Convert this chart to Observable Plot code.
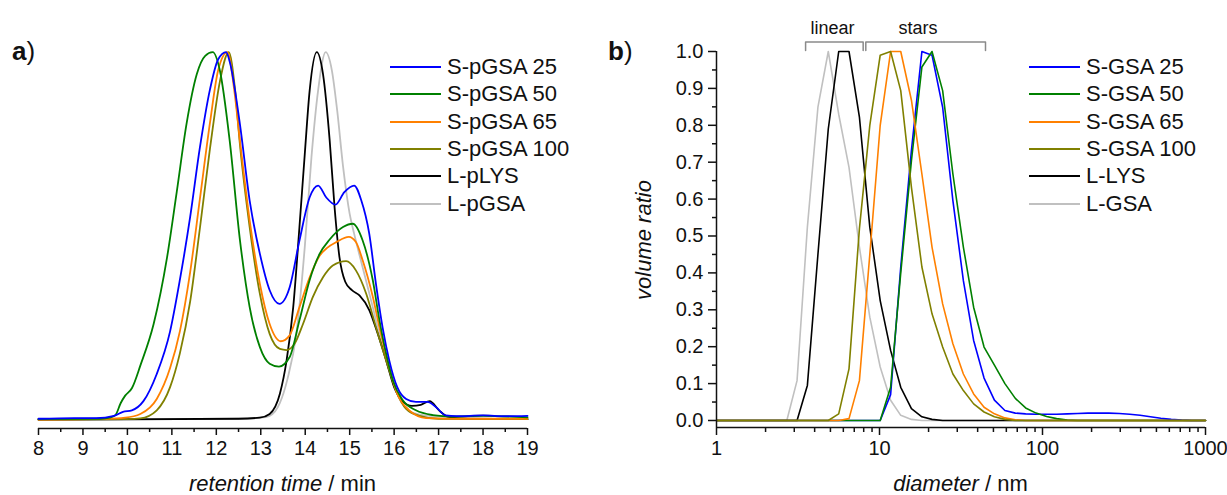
<!DOCTYPE html>
<html><head><meta charset="utf-8">
<script src="https://cdn.jsdelivr.net/npm/d3@7"></script>
<script src="https://cdn.jsdelivr.net/npm/@observablehq/plot@0.6"></script>
<style>
body{margin:0;background:#fff;font-family:"Liberation Sans",Arial,sans-serif;}
#wrap{position:relative;width:1227px;height:495px;overflow:hidden;background:#fff;}
.panel{position:absolute;top:0;}
.leg{position:absolute;display:flex;align-items:center;height:26px;font-size:22px;color:#111;white-space:nowrap;}
.leg svg{margin-right:6px;}
#overlay{position:absolute;left:0;top:0;pointer-events:none;}
</style></head><body><div id="wrap"></div>
<script>
// ---------- Panel a: SEC traces (retention time / min, normalised signal) ----------
const secS25 = [[8.0,0.002],[8.8,0.004],[9.3,0.004],[9.7,0.01],[9.9,0.021],[10.1,0.025],[10.36,0.05],[10.66,0.124],[10.96,0.24],[11.18,0.38],[11.41,0.55],[11.63,0.74],[11.86,0.9],[12.04,0.98],[12.22,1.0],[12.3,0.975],[12.53,0.805],[12.75,0.596],[12.98,0.451],[13.2,0.352],[13.42,0.315],[13.65,0.36],[13.87,0.487],[14.1,0.605],[14.29,0.637],[14.47,0.605],[14.68,0.585],[14.88,0.619],[15.1,0.637],[15.26,0.597],[15.44,0.506],[15.59,0.37],[15.74,0.251],[15.89,0.161],[16.07,0.088],[16.27,0.056],[16.49,0.048],[16.75,0.048],[16.94,0.034],[17.16,0.011],[17.4,0.009],[18.0,0.011],[18.5,0.009],[19.0,0.01]];
const secS50 = [[8,0.001],[9.4,0.002],[9.6,0.005],[9.73,0.012],[9.85,0.045],[9.95,0.065],[10.1,0.085],[10.3,0.15],[10.59,0.26],[10.89,0.44],[11.11,0.62],[11.33,0.805],[11.56,0.94],[11.75,0.99],[11.92,1.0],[12.08,0.95],[12.3,0.76],[12.53,0.49],[12.75,0.306],[12.98,0.197],[13.2,0.152],[13.41,0.144],[13.65,0.17],[13.87,0.27],[14.1,0.38],[14.32,0.45],[14.55,0.49],[14.85,0.524],[15.07,0.533],[15.29,0.488],[15.52,0.379],[15.67,0.27],[15.82,0.179],[15.97,0.107],[16.19,0.053],[16.49,0.025],[16.87,0.012],[17.3,0.008],[18.0,0.01],[19.0,0.006]];
const secS65 = [[8,0.0],[9.5,0.002],[9.95,0.005],[10.29,0.015],[10.66,0.056],[10.96,0.14],[11.18,0.24],[11.41,0.4],[11.63,0.6],[11.86,0.81],[12.04,0.95],[12.25,1.0],[12.4,0.9],[12.53,0.76],[12.75,0.542],[12.98,0.369],[13.2,0.26],[13.45,0.213],[13.65,0.229],[13.87,0.306],[14.1,0.387],[14.32,0.445],[14.5,0.468],[14.7,0.483],[14.98,0.497],[15.14,0.483],[15.29,0.434],[15.52,0.334],[15.7,0.234],[15.89,0.143],[16.07,0.07],[16.34,0.025],[16.72,0.004],[17.5,0.002],[19,0.002]];
const secS100 = [[8,0],[10.0,0.001],[10.29,0.003],[10.66,0.025],[10.96,0.088],[11.18,0.18],[11.41,0.32],[11.63,0.52],[11.86,0.74],[12.08,0.92],[12.28,1.0],[12.42,0.9],[12.53,0.75],[12.75,0.524],[12.98,0.342],[13.2,0.233],[13.43,0.192],[13.58,0.189],[13.76,0.206],[13.95,0.26],[14.17,0.333],[14.4,0.387],[14.62,0.419],[14.92,0.431],[15.14,0.406],[15.37,0.343],[15.59,0.252],[15.82,0.161],[16.04,0.08],[16.27,0.029],[16.57,0.01],[17.0,0.002],[19,0.001]];
const secLLYS = [[8,0],[12.5,0.002],[12.98,0.005],[13.2,0.015],[13.43,0.07],[13.58,0.16],[13.73,0.306],[13.87,0.524],[13.99,0.723],[14.1,0.896],[14.26,1.0],[14.4,0.94],[14.55,0.76],[14.66,0.578],[14.77,0.442],[14.9,0.375],[15.05,0.352],[15.22,0.338],[15.44,0.298],[15.63,0.234],[15.82,0.161],[16.0,0.088],[16.19,0.05],[16.4,0.037],[16.6,0.04],[16.8,0.05],[17.01,0.025],[17.2,0.008],[17.5,0.003],[19,0.001]];
const secLGSA = [[8,0],[12.5,0.002],[13.0,0.005],[13.2,0.01],[13.43,0.045],[13.6,0.11],[13.8,0.233],[13.99,0.47],[14.14,0.714],[14.29,0.896],[14.46,1.0],[14.6,0.95],[14.72,0.84],[14.85,0.69],[15.0,0.56],[15.1,0.506],[15.29,0.415],[15.52,0.306],[15.7,0.216],[15.89,0.14],[16.1,0.061],[16.42,0.018],[16.8,0.01],[17.5,0.008],[18.0,0.012],[18.5,0.006],[19,0.005]];
const namesA = ["S-pGSA 25","S-pGSA 50","S-pGSA 65","S-pGSA 100","L-pLYS","L-pGSA"];
const ticksA = [8,9,10,11,12,13,14,15,16,17,18,19];

// ---------- Panel b: DLS volume distributions ----------
const dlsDiameter = [1,2.70,3.12,3.61,4.19,4.85,5.62,6.50,7.53,8.72,10.1,11.7,13.5,15.7,18.2,21.0,24.4,28.2,32.7,37.8,43.8,50.7,58.8,68.1,78.8,91.3,106,122,142,164,190,220,255,296,343,397,459,532,616,714,826,957,1000];
const dlsS25  = [0,0,0,0,0,0,0,0,0,0,0,0.07,0.416,0.732,1.0,0.99,0.849,0.596,0.379,0.217,0.115,0.055,0.027,0.02,0.018,0.017,0.017,0.017,0.018,0.019,0.02,0.02,0.02,0.019,0.017,0.014,0.01,0.006,0.003,0.001,0,0,0];
const dlsS50  = [0,0,0,0,0,0,0,0,0,0,0,0.09,0.40,0.704,0.958,1.0,0.894,0.668,0.47,0.307,0.199,0.15,0.10,0.06,0.034,0.02,0.011,0.005,0.001,0,0,0,0,0,0,0,0,0,0,0,0,0,0];
const dlsS65  = [0,0,0,0,0,0,0,0.005,0.108,0.45,0.80,1.0,1.0,0.868,0.668,0.47,0.316,0.208,0.126,0.072,0.036,0.018,0.007,0.002,0,0,0,0,0,0,0,0,0,0,0,0,0,0,0,0,0,0,0];
const dlsS100 = [0,0,0,0,0,0,0.018,0.14,0.52,0.80,0.99,1.0,0.894,0.632,0.416,0.289,0.199,0.126,0.081,0.045,0.023,0.01,0.003,0,0,0,0,0,0,0,0,0,0,0,0,0,0,0,0,0,0,0,0];
const dlsLLYS = [0,0,0,0.095,0.45,0.79,1.0,1.0,0.822,0.524,0.325,0.19,0.09,0.032,0.01,0.003,0,0,0,0,0,0,0,0,0,0,0,0,0,0,0,0,0,0,0,0,0,0,0,0,0,0,0];
const dlsLGSA = [0,0,0.108,0.524,0.849,1.0,0.83,0.686,0.47,0.28,0.145,0.055,0.014,0.003,0,0,0,0,0,0,0,0,0,0,0,0,0,0,0,0,0,0,0,0,0,0,0,0,0,0,0,0,0];
const namesB = ["S-GSA 25","S-GSA 50","S-GSA 65","S-GSA 100","L-LYS","L-GSA"];
const ticksBx = [1,10,100,1000];
const ticksBy = [0,0.1,0.2,0.3,0.4,0.5,0.6,0.7,0.8,0.9,1.0];
const bracketLinear = [3.52, 7.94];
const bracketStars = [8.24, 44.7];
const bracketLabels = [{x: 5.15, label: "linear"}, {x: 17.2, label: "stars"}];

const colors = ["#0000ff","#008000","#ff8000","#808000","#000000","#c0c0c0"];
const FONT = "Liberation Sans, Arial, sans-serif";
const INK = "#111";

const wrap = document.getElementById("wrap");

// ----- panel a -----
const seriesA = [secS25, secS50, secS65, secS100, secLLYS, secLGSA];
const drawOrderA = [5,4,3,2,1,0];
const minorA = d3.range(8.5, 19, 1);
const yMinA = -0.0245;
const plotA = Plot.plot({
  width: 560, height: 495,
  marginLeft: 38, marginRight: 33, marginTop: 51.7, marginBottom: 67,
  x: {domain: [8, 19]},
  y: {domain: [yMinA, 1], axis: null},
  style: {fontSize: "20px", fontFamily: FONT, color: INK, background: "transparent", overflow: "visible"},
  marks: [
    ...drawOrderA.map(i => Plot.line(seriesA[i], {x: d => d[0], y: d => d[1], stroke: colors[i], strokeWidth: 1.8, curve: "monotone-x"})),
    Plot.ruleY([yMinA], {stroke: INK, strokeWidth: 1.5}),
    Plot.axisX({ticks: ticksA, tickSize: 7, tickPadding: 5, tickFormat: d => String(d), stroke: INK, strokeWidth: 1.5, label: null, fontSize: 20}),
    Plot.axisX({ticks: minorA, tickSize: 4, tickFormat: () => "", stroke: INK, strokeWidth: 1.5, label: null})
  ]
});
plotA.classList.add("panel");
plotA.style.left = "0px";
wrap.appendChild(plotA);

// ----- panel b -----
const seriesB = [dlsS25, dlsS50, dlsS65, dlsS100, dlsLLYS, dlsLGSA];
const drawOrderB = [5,4,0,1,2,3];
const minorBx = [2,3,4,5,6,7,8,9].flatMap(m => [m, m*10, m*100]);
const minorBy = d3.range(0, 10).map(i => (i * 2 + 1) / 20);
const yMinB = -0.019;
const bracketPath = ([a, b]) => [[a, 1.003], [a, 1.026], [b, 1.026], [b, 1.003]];
const plotB = Plot.plot({
  width: 627, height: 495,
  marginLeft: 116, marginRight: 22, marginTop: 51, marginBottom: 68,
  x: {type: "log", domain: [1, 1000]},
  y: {domain: [yMinB, 1]},
  style: {fontSize: "20px", fontFamily: FONT, color: INK, background: "transparent", overflow: "visible"},
  marks: [
    ...drawOrderB.map(i => Plot.line(dlsDiameter.map((d, k) => [d, seriesB[i][k]]), {x: d => d[0], y: d => d[1], stroke: colors[i], strokeWidth: 1.6})),
    Plot.ruleY([yMinB], {stroke: INK, strokeWidth: 1.5}),
    Plot.ruleX([1], {y1: yMinB, y2: 1, stroke: INK, strokeWidth: 1.5}),
    Plot.axisX({ticks: ticksBx, tickSize: 8, tickPadding: 5, tickFormat: d => String(d), stroke: INK, strokeWidth: 1.5, label: null, fontSize: 20}),
    Plot.axisX({ticks: minorBx, tickSize: 5, tickFormat: () => "", stroke: INK, strokeWidth: 1.5, label: null}),
    Plot.axisY({ticks: ticksBy, tickSize: 8, tickPadding: 5, tickFormat: d3.format(".1f"), stroke: INK, strokeWidth: 1.5, label: null, fontSize: 20}),
    Plot.axisY({ticks: minorBy, tickSize: 4, tickFormat: () => "", stroke: INK, strokeWidth: 1.5, label: null}),
    Plot.line(bracketPath(bracketLinear), {x: d => d[0], y: d => d[1], stroke: "#8a8a8a", strokeWidth: 1.5}),
    Plot.line(bracketPath(bracketStars), {x: d => d[0], y: d => d[1], stroke: "#8a8a8a", strokeWidth: 1.5}),
    Plot.text(bracketLabels, {x: "x", y: () => 1.062, text: "label", fontSize: 18, fill: INK})
  ]
});
plotB.classList.add("panel");
plotB.style.left = "600px";
wrap.appendChild(plotB);

// ----- legends -----
function legend(names, x0, lineW, y0, dy) {
  names.forEach((n, i) => {
    const div = document.createElement("div");
    div.className = "leg";
    div.style.left = x0 + "px";
    div.style.top = (y0 + dy * i - 13) + "px";
    div.innerHTML = `<svg width="${lineW}" height="4"><line x1="0" y1="2" x2="${lineW}" y2="2" stroke="${colors[i]}" stroke-width="2"/></svg><span>${n}</span>`;
    wrap.appendChild(div);
  });
}
legend(namesA, 390, 51, 67, 27.3);
legend(namesB, 1029, 51, 67, 27.3);

// ----- panel letters and axis titles -----
const ns = "http://www.w3.org/2000/svg";
const ov = document.createElementNS(ns, "svg");
ov.setAttribute("id", "overlay");
ov.setAttribute("width", 1227);
ov.setAttribute("height", 495);
ov.innerHTML = `
<g font-family="${FONT}" fill="${INK}">
  <text x="12" y="60" font-size="26"><tspan font-weight="bold">a</tspan>)</text>
  <text x="608" y="60" font-size="26"><tspan font-weight="bold">b</tspan>)</text>
  <text x="282.5" y="491" font-size="22" text-anchor="middle"><tspan font-style="italic">retention time</tspan> / min</text>
  <text x="960.5" y="491" font-size="22" text-anchor="middle"><tspan font-style="italic">diameter</tspan> / nm</text>
  <text x="651" y="240" font-size="22" text-anchor="middle" font-style="italic" transform="rotate(-90 651 240)">volume ratio</text>
</g>`;
wrap.appendChild(ov);
</script></body></html>
